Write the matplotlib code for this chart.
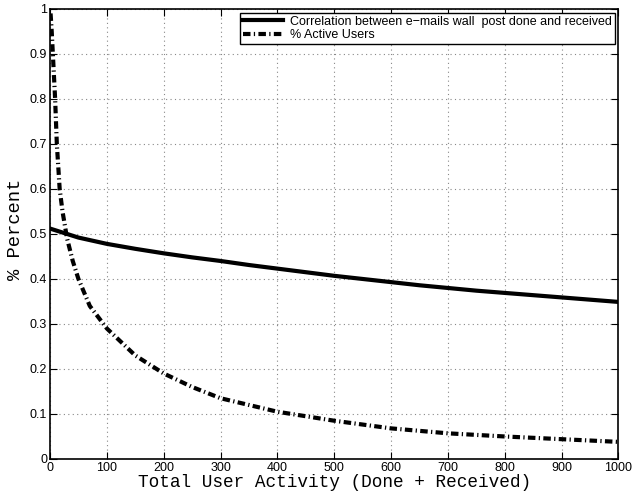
import matplotlib
matplotlib.use("Agg")
import matplotlib.pyplot as plt

corr_x = [0, 50, 100, 150, 200, 250, 300, 350, 400, 450, 500, 550, 600, 650, 700, 750, 800, 850, 900, 950, 1000]
corr_y = [0.512, 0.492, 0.478, 0.467, 0.457, 0.448, 0.440, 0.431, 0.423, 0.415, 0.407, 0.400, 0.393, 0.386, 0.380, 0.374, 0.369, 0.364, 0.359, 0.354, 0.349]

act_x = [1, 3, 5, 7, 9, 12, 17, 22, 30, 40, 50, 70, 100, 150, 200, 250, 300, 400, 500, 600, 700, 800, 900, 1000]
act_y = [0.99, 0.95, 0.90, 0.85, 0.80, 0.70, 0.60, 0.55, 0.49, 0.44, 0.40, 0.34, 0.29, 0.23, 0.19, 0.16, 0.135, 0.105, 0.085, 0.068, 0.057, 0.05, 0.044, 0.038]

labels = ["Correlation between e\u2212mails wall  post done and received", "% Active Users"]

fig = plt.figure(figsize=(6.33, 4.97), dpi=100)
ax = fig.add_axes([0.079, 0.0765, 0.898, 0.9055])
ax.plot(corr_x, corr_y, color="black", linewidth=3, linestyle="-", label=labels[0])
ax.plot(act_x, act_y, color="black", linewidth=3, linestyle=(0, (1.8, 0.8, 0.3, 0.8)), label=labels[1])
ax.set_xlim(0, 1000)
ax.set_ylim(0, 1)
ax.set_xticks(range(0, 1001, 100))
ax.set_yticks([i / 10 for i in range(11)])
ax.set_yticklabels(["0", "0.1", "0.2", "0.3", "0.4", "0.5", "0.6", "0.7", "0.8", "0.9", "1"])
ax.grid(True, linestyle=(0, (1, 3)), color="#888888", linewidth=0.8)
ax.tick_params(direction="in", top=True, right=True, labelsize=9, length=5, width=0.8, pad=2)
for lab in ax.get_xticklabels() + ax.get_yticklabels():
    lab.set_family("Liberation Sans")
for s in ax.spines.values():
    s.set_linewidth(1.2)
ax.set_xlabel("Total User Activity (Done + Received)", family="Liberation Mono", fontsize=12.8, labelpad=0)
ax.set_ylabel("% Percent", family="Liberation Mono", fontsize=13.5)
ax.yaxis.set_label_coords(-0.045, 0.51)
leg = ax.legend(loc="upper right", prop={"family": "Liberation Sans", "size": 9}, fancybox=False,
                edgecolor="black", framealpha=1, borderaxespad=0.3, handlelength=3.2,
                labelspacing=0.1, borderpad=0.25, handletextpad=0.5)
leg.get_frame().set_linewidth(1.0)
fig.savefig("out.png", dpi=100)
